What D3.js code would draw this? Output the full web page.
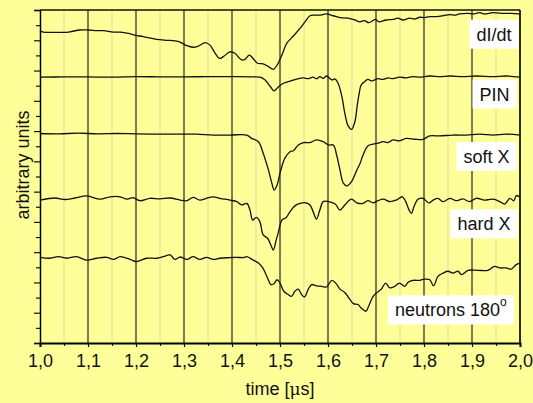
<!DOCTYPE html>
<html>
<head>
<meta charset="utf-8">
<script src="https://cdn.jsdelivr.net/npm/d3@7"></script>
<style>
  html, body { margin: 0; padding: 0; background: #FFFF99; }
  svg { display: block; font-family: "Liberation Sans", Arial, sans-serif; }
</style>
</head>
<body>
<svg id="chart" width="533" height="403"></svg>
<script>
// Signals, each as [time in µs, arbitrary units]
const dIdt = [
  [1.000,103.2],[1.007,102.7],[1.028,102.6],[1.049,102.6],[1.0625,102.8],[1.083,103.4],
  [1.101,103.4],[1.118,103.2],[1.132,103.2],[1.153,102.7],[1.167,102.7],[1.184,102.3],
  [1.198,101.7],[1.215,101.2],[1.243,100.3],[1.264,100.0],[1.281,99.8],[1.292,99.4],
  [1.306,98.2],[1.319,97.7],[1.330,98.1],[1.344,99.2],[1.354,98.4],[1.365,95.7],
  [1.374,94.0],[1.382,94.6],[1.396,96.2],[1.406,95.7],[1.420,93.5],[1.427,93.7],
  [1.436,95.1],[1.444,94.0],[1.453,92.4],[1.465,92.2],[1.476,91.3],[1.486,90.4],
  [1.494,91.8],[1.504,95.1],[1.514,99.0],[1.528,101.4],[1.542,104.0],[1.552,106.1],
  [1.5625,108.1],[1.573,108.3],[1.583,108.3],[1.597,108.7],[1.611,108.1],[1.625,107.5],
  [1.642,107.3],[1.656,106.7],[1.666,106.1],[1.676,106.5],[1.685,105.8],[1.699,106.9],
  [1.706,106.1],[1.721,106.7],[1.735,106.9],[1.746,107.3],[1.756,106.7],[1.770,107.3],
  [1.781,107.0],[1.791,107.6],[1.801,107.5],[1.812,107.8],[1.826,107.8],[1.840,108.1],
  [1.854,108.5],[1.864,108.3],[1.874,108.7],[1.892,108.9],[1.902,108.7],[1.916,109.1],
  [1.926,108.7],[1.944,109.1],[1.965,108.9],[1.982,108.9],[2.000,108.7]
];

const pin = [
  [1.000,87.8],[1.05,87.9],[1.10,87.9],[1.15,87.8],[1.20,88.0],[1.25,87.9],[1.30,87.9],
  [1.35,88.0],[1.40,88.0],[1.44,87.9],[1.458,87.8],[1.469,86.9],[1.479,84.9],[1.4875,83.3],
  [1.496,84.5],[1.507,85.8],[1.521,86.5],[1.535,87.2],[1.549,87.6],[1.559,87.3],
  [1.569,87.8],[1.576,87.3],[1.583,88.0],[1.590,87.4],[1.597,88.2],[1.608,86.9],
  [1.615,87.2],[1.621,85.8],[1.629,81.4],[1.635,75.9],[1.642,71.7],[1.649,70.6],
  [1.656,73.1],[1.661,78.6],[1.665,82.5],[1.669,85.2],[1.676,86.3],[1.683,87.1],
  [1.690,86.6],[1.697,86.9],[1.704,87.3],[1.715,87.1],[1.725,87.6],[1.735,87.3],
  [1.749,87.8],[1.763,87.6],[1.777,88.0],[1.791,87.8],[1.812,88.2],[1.833,88.0],
  [1.854,88.2],[1.881,88.0],[1.909,88.2],[1.944,88.0],[1.971,88.2],[2.000,87.8]
];

const softX = [
  [1.000,69.2],[1.04,69.1],[1.08,69.3],[1.12,69.1],[1.16,69.2],[1.20,69.1],[1.25,69.0],
  [1.30,69.0],[1.326,69.0],[1.361,68.7],[1.396,68.7],[1.431,68.7],[1.441,67.6],[1.455,66.5],
  [1.465,62.7],[1.476,57.1],[1.483,52.8],[1.488,50.5],[1.494,52.2],[1.500,56.1],
  [1.510,61.0],[1.521,63.2],[1.528,63.5],[1.538,65.4],[1.549,66.2],[1.5625,66.2],
  [1.576,67.1],[1.590,66.5],[1.601,65.4],[1.611,65.4],[1.618,62.1],[1.625,57.1],
  [1.632,52.8],[1.639,51.9],[1.649,53.3],[1.660,57.1],[1.667,59.4],[1.673,62.1],
  [1.683,65.1],[1.694,65.7],[1.704,66.0],[1.715,66.5],[1.725,66.2],[1.735,67.1],
  [1.749,66.8],[1.763,67.6],[1.781,67.3],[1.798,67.3],[1.812,68.4],[1.833,68.4],
  [1.860,68.7],[1.888,68.7],[1.916,69.0],[1.944,68.7],[1.971,69.0],[2.000,68.7]
];

const hardX = [
  [1.000,47.2],[1.031,47.9],[1.052,47.4],[1.073,47.9],[1.097,48.6],[1.125,47.5],
  [1.146,48.3],[1.167,48.3],[1.181,47.5],[1.194,48.0],[1.208,47.0],[1.229,47.8],
  [1.250,47.6],[1.271,47.9],[1.292,47.2],[1.306,47.0],[1.319,48.1],[1.333,47.2],
  [1.347,47.8],[1.361,48.3],[1.375,47.8],[1.396,47.2],[1.410,46.7],[1.420,45.6],
  [1.431,46.1],[1.4375,43.9],[1.443,40.6],[1.451,41.5],[1.458,40.1],[1.465,35.7],
  [1.474,34.6],[1.481,32.4],[1.486,30.7],[1.492,34.0],[1.496,36.2],[1.504,40.6],
  [1.5125,41.4],[1.521,43.4],[1.531,45.3],[1.542,46.1],[1.554,46.3],[1.5625,45.6],
  [1.569,43.4],[1.576,40.9],[1.583,43.9],[1.590,46.7],[1.601,46.7],[1.615,45.9],
  [1.625,43.9],[1.635,45.6],[1.649,47.5],[1.660,46.3],[1.673,46.1],[1.683,47.0],
  [1.694,46.3],[1.704,47.0],[1.715,47.5],[1.729,46.7],[1.742,47.2],[1.755,48.3],
  [1.762,46.7],[1.769,43.9],[1.774,42.8],[1.779,45.0],[1.7875,47.5],[1.798,47.8],
  [1.810,46.3],[1.819,47.2],[1.829,47.8],[1.840,46.7],[1.854,47.8],[1.867,47.0],
  [1.881,47.6],[1.895,46.7],[1.909,47.8],[1.926,47.2],[1.944,47.5],[1.958,46.7],
  [1.968,45.9],[1.979,47.8],[1.987,47.0],[1.992,48.6],[2.000,48.3]
];

const neutrons = [
  [1.000,28.3],[1.021,28.0],[1.038,28.5],[1.056,28.0],[1.076,28.5],[1.097,27.4],
  [1.118,28.0],[1.139,28.3],[1.153,27.6],[1.167,28.5],[1.1875,27.6],[1.201,26.9],
  [1.222,28.0],[1.243,28.0],[1.257,28.5],[1.271,29.1],[1.281,27.6],[1.292,28.4],
  [1.306,27.6],[1.319,28.5],[1.333,27.6],[1.347,28.3],[1.361,27.6],[1.375,28.0],
  [1.396,28.2],[1.410,28.3],[1.424,28.2],[1.431,28.5],[1.444,27.4],[1.455,26.4],
  [1.464,24.8],[1.474,21.5],[1.481,19.3],[1.4875,19.6],[1.494,20.9],[1.500,19.8],
  [1.508,17.1],[1.517,16.0],[1.524,15.4],[1.531,17.1],[1.538,17.8],[1.545,16.0],
  [1.551,15.2],[1.559,17.8],[1.566,19.3],[1.576,18.9],[1.587,18.7],[1.597,18.5],
  [1.608,20.7],[1.617,19.6],[1.625,17.8],[1.635,16.7],[1.646,14.3],[1.653,13.0],
  [1.6625,12.7],[1.669,11.6],[1.679,10.5],[1.685,12.3],[1.694,15.4],[1.701,16.5],
  [1.711,17.8],[1.720,19.8],[1.729,18.2],[1.739,18.7],[1.749,19.8],[1.760,18.7],
  [1.767,20.1],[1.777,20.7],[1.791,20.7],[1.801,21.1],[1.812,20.9],[1.820,18.9],
  [1.829,22.0],[1.840,23.1],[1.850,23.7],[1.860,23.1],[1.871,23.7],[1.878,22.6],
  [1.892,24.0],[1.9125,24.0],[1.933,24.0],[1.947,25.3],[1.958,24.8],[1.971,24.8],
  [1.982,24.4],[1.992,25.9],[2.000,26.4]
];

const seriesNames = ["dI/dt", "PIN", "soft X", "hard X", "neutrons 180"];
const xMajorTicks = [1.0, 1.1, 1.2, 1.3, 1.4, 1.5, 1.6, 1.7, 1.8, 1.9, 2.0];
const xMinorTicks = [1.05, 1.15, 1.25, 1.35, 1.45, 1.55, 1.65, 1.75, 1.85, 1.95];
const yMajorTicks = [0, 10, 20, 30, 40, 50, 60, 70, 80, 90, 100, 110];
const yMinorTicks = [5, 15, 25, 35, 45, 55, 65, 75, 85, 95, 105];

// Label anchors (centre of each white box) in data coordinates
const labelAnchors = [
  [1.946, 102.0], [1.947, 82.2], [1.930, 61.6], [1.925, 39.4], [1.856, 10.9]
];

const W = 533, H = 403;
const margin = { top: 10, right: 13, bottom: 60, left: 40 };
const svg = d3.select("#chart");

svg.append("rect").attr("width", W).attr("height", H).attr("fill", "#FFFF99");

const x = d3.scaleLinear().domain([1.0, 2.0]).range([margin.left, W - margin.right]);
const y = d3.scaleLinear().domain([0, 110]).range([H - margin.bottom, margin.top]);

const fmt = d3.formatLocale({ decimal: ",", thousands: ".", grouping: [3], currency: ["", ""] }).format(".1f");

// vertical grid
const grid = svg.append("g");
grid.selectAll("line.minor").data(xMinorTicks).join("line")
  .attr("class", "minor")
  .attr("x1", d => x(d)).attr("x2", d => x(d))
  .attr("y1", y(110)).attr("y2", y(0))
  .attr("stroke", "#e6e6aa").attr("stroke-width", 1.4);
grid.selectAll("line.major").data(xMajorTicks.slice(1)).join("line")
  .attr("class", "major")
  .attr("x1", d => x(d)).attr("x2", d => x(d))
  .attr("y1", y(110)).attr("y2", y(0))
  .attr("stroke", "#111").attr("stroke-width", 1.1);

// traces
const line = d3.line()
  .x(d => x(d[0])).y(d => y(d[1]))
  .curve(d3.curveCatmullRom.alpha(0.5));

svg.append("g").selectAll("path")
  .data([dIdt, pin, softX, hardX, neutrons]).join("path")
  .attr("d", line)
  .attr("fill", "none")
  .attr("stroke", "#111")
  .attr("stroke-width", 1.3)
  .attr("stroke-linejoin", "round");

// series labels on white boxes
const labels = svg.append("g");
seriesNames.forEach((name, i) => {
  const [lt, lv] = labelAnchors[i];
  const g = labels.append("g");
  const t = g.append("text")
    .attr("x", x(lt)).attr("y", y(lv)).attr("dy", "0.36em")
    .attr("text-anchor", "middle")
    .attr("font-size", 18).attr("fill", "#111");
  t.append("tspan").text(name);
  if (i === 4) {
    t.append("tspan").attr("font-size", 12).attr("dy", "-0.85em").text("o");
  }
  const bb = t.node().getBBox();
  g.insert("rect", "text")
    .attr("x", bb.x - 7).attr("y", y(lv) - 14.5)
    .attr("width", bb.width + 14).attr("height", 29)
    .attr("fill", "#fff");
});

// axes
const xAxis = svg.append("g").attr("transform", `translate(0,${y(0)})`)
  .call(d3.axisBottom(x).tickValues(xMajorTicks).tickSize(4).tickPadding(7).tickFormat(fmt));
svg.append("g").attr("transform", `translate(0,${y(0)})`)
  .call(d3.axisBottom(x).tickValues(xMinorTicks).tickSize(3).tickFormat(""))
  .select(".domain").remove();
xAxis.select(".domain").attr("stroke-width", 2);
xAxis.selectAll("text").attr("font-size", 18).attr("fill", "#111")
  .attr("font-family", "'Liberation Sans', Arial, sans-serif");

const yAxis = svg.append("g").attr("transform", `translate(${x(1.0)},0)`)
  .call(d3.axisLeft(y).tickValues(yMajorTicks).tickSize(6).tickFormat(""));
svg.append("g").attr("transform", `translate(${x(1.0)},0)`)
  .call(d3.axisLeft(y).tickValues(yMinorTicks).tickSize(4).tickFormat(""))
  .select(".domain").remove();
yAxis.select(".domain").attr("stroke-width", 1.5);
svg.selectAll(".tick line").attr("stroke", "#111").attr("stroke-width", 1.2);

// top and right frame
svg.append("line").attr("x1", x(1.0)).attr("x2", x(2.0)).attr("y1", y(110)).attr("y2", y(110))
  .attr("stroke", "#111").attr("stroke-width", 1.5);
svg.append("line").attr("x1", x(2.0)).attr("x2", x(2.0)).attr("y1", y(110)).attr("y2", y(0))
  .attr("stroke", "#111").attr("stroke-width", 1.5);

// axis titles
const xTitle = svg.append("text")
  .attr("x", (x(1.0) + x(2.0)) / 2).attr("y", 395)
  .attr("text-anchor", "middle").attr("font-size", 18).attr("fill", "#111");
xTitle.append("tspan").text("time [");
xTitle.append("tspan").attr("font-family", "'DejaVu Serif', serif").attr("font-size", 17).text("μ");
xTitle.append("tspan").text("s]");
svg.append("text")
  .attr("transform", "translate(29,165) rotate(-90)")
  .attr("text-anchor", "middle").attr("font-size", 18).attr("fill", "#111")
  .text("arbitrary units");
</script>
</body>
</html>
